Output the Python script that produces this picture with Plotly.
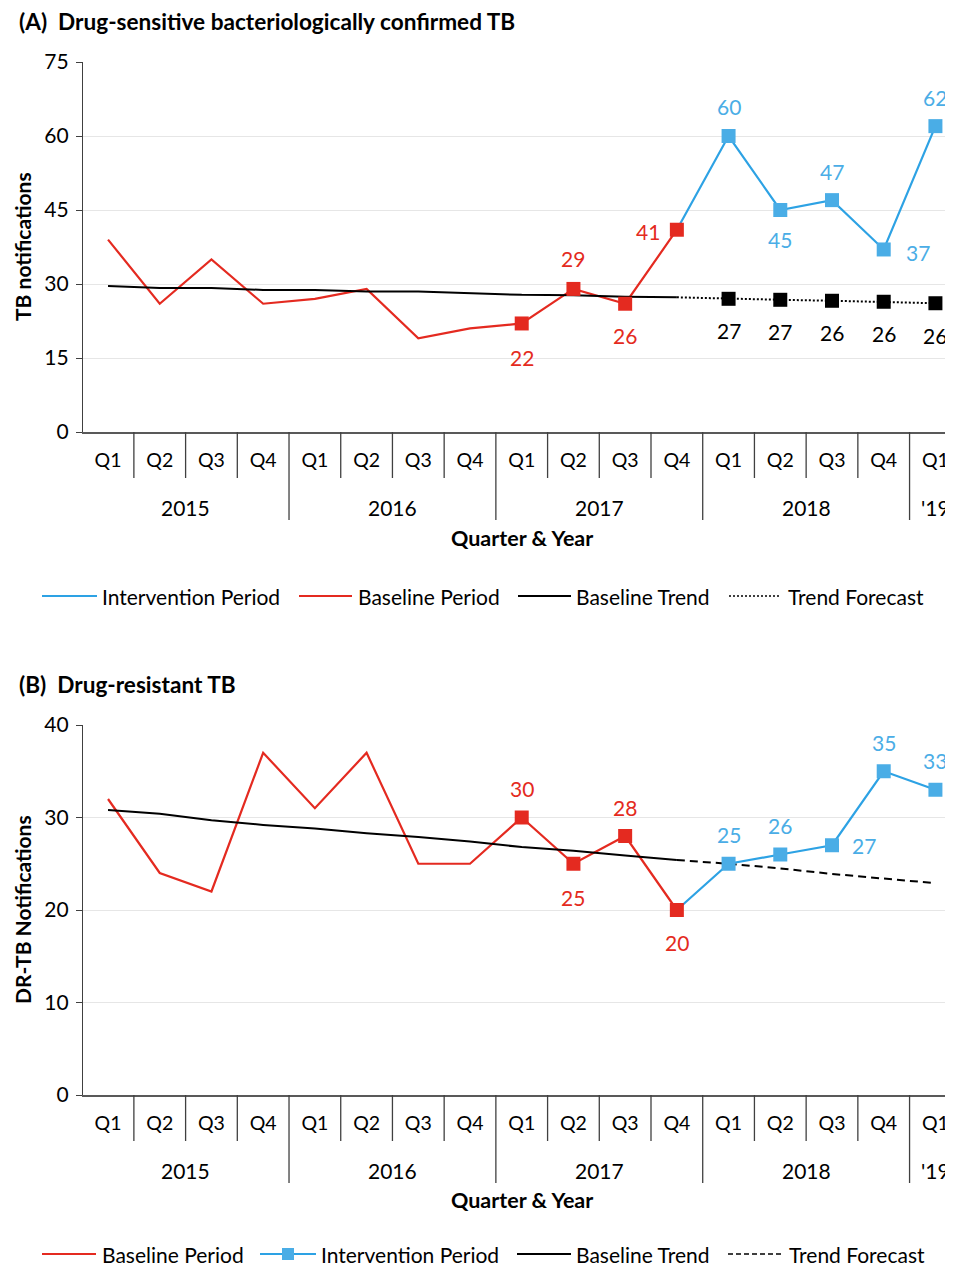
import plotly.graph_objects as go

# ---------------- data ----------------
quarters = ["Q1", "Q2", "Q3", "Q4"] * 4 + ["Q1"]
years = ["2015", "2016", "2017", "2018", "'19"]
year_centers = [1.5, 5.5, 9.5, 13.5, 16]
x_base = list(range(12))          # 2015 Q1 .. 2017 Q4
x_int = list(range(11, 17))       # 2017 Q4 .. 2019 Q1

# Panel A: drug-sensitive bacteriologically confirmed TB
a_baseline = [39, 26, 35, 26, 27, 29, 19, 21, 22, 29, 26, 41]
a_intervention = [41, 60, 45, 47, 37, 62]
a_trend = [29.6, 29.2, 29.2, 28.8, 28.8, 28.5, 28.5, 28.1, 27.8, 27.7, 27.4, 27.3]
a_forecast = [27.3, 27.0, 26.8, 26.6, 26.4, 26.1]
a_forecast_labels = ["27", "27", "26", "26", "26"]

# Panel B: drug-resistant TB
b_baseline = [32, 24, 22, 37, 31, 37, 25, 25, 30, 25, 28, 20]
b_intervention = [20, 25, 26, 27, 35, 33]
b_trend = [30.8, 30.4, 29.7, 29.2, 28.8, 28.3, 27.9, 27.4, 26.8, 26.4, 25.9, 25.4]
b_forecast = [25.4, 25.0, 24.5, 23.9, 23.4, 22.9]

legend_a = ["Intervention Period", "Baseline Period", "Baseline Trend", "Trend Forecast"]
legend_b = ["Baseline Period", "Intervention Period", "Baseline Trend", "Trend Forecast"]

RED = "#E42A20"
BLUE_L = "#2DA2E4"
BLUE_M = "#4AADE6"
FONT = "Lato"

# page has an 8px body margin
OFF = 8
W, H = 953 - OFF, 1269 - OFF


def X(px):
    return (px - OFF) / W


def Y(py):
    return 1 - (py - OFF) / H


fig = go.Figure()
annotations = []
shapes = []


def label(xa, ya, x, y, text, color, dx, dy):
    annotations.append(dict(x=x, y=y, xref=xa, yref=ya, text=text, showarrow=False,
                            xshift=dx, yshift=dy, xanchor="center", yanchor="middle",
                            font=dict(size=21, color=color, family=FONT)))


styles = {
    "Baseline Period": dict(color=RED, width=2.2, dash="solid"),
    "Intervention Period": dict(color=BLUE_L, width=2.2, dash="solid"),
    "Baseline Trend": dict(color="black", width=2, dash="solid"),
}
MS = 14


def add_panel(n, base, inter, trend, fc, fc_dash, fc_labels, base_off, int_off):
    xa = "x" if n == 1 else "x2"
    ya = "y" if n == 1 else "y2"
    fig.add_trace(go.Scatter(x=x_base, y=base, mode="lines", name="Baseline Period",
                             line=styles["Baseline Period"], xaxis=xa, yaxis=ya,
                             showlegend=False, hoverinfo="skip"))
    fig.add_trace(go.Scatter(x=x_base, y=trend, mode="lines", name="Baseline Trend",
                             line=styles["Baseline Trend"], xaxis=xa, yaxis=ya,
                             showlegend=False, hoverinfo="skip"))
    fig.add_trace(go.Scatter(x=x_int, y=fc, mode="lines", name="Trend Forecast",
                             line=dict(color="black", width=2, dash=fc_dash),
                             xaxis=xa, yaxis=ya, showlegend=False, hoverinfo="skip"))
    if fc_labels:
        fig.add_trace(go.Scatter(x=x_int[1:], y=fc[1:], mode="markers",
                                 name="Trend Forecast",
                                 marker=dict(symbol="square", size=MS, color="black"),
                                 xaxis=xa, yaxis=ya, showlegend=False, hoverinfo="skip"))
        for xv, yv, t in zip(x_int[1:], fc[1:], fc_labels):
            label(xa, ya, xv, yv, t, "black", 0, -32)
    fig.add_trace(go.Scatter(x=x_int, y=inter, mode="lines", name="Intervention Period",
                             line=styles["Intervention Period"],
                             xaxis=xa, yaxis=ya, showlegend=False, hoverinfo="skip"))
    fig.add_trace(go.Scatter(x=x_int[1:], y=inter[1:], mode="markers",
                             name="Intervention Period",
                             marker=dict(symbol="square", size=MS, color=BLUE_M),
                             xaxis=xa, yaxis=ya, showlegend=False, hoverinfo="skip"))
    fig.add_trace(go.Scatter(x=x_base[8:], y=base[8:], mode="markers",
                             name="Baseline Period",
                             marker=dict(symbol="square", size=MS, color=RED),
                             xaxis=xa, yaxis=ya, showlegend=False, hoverinfo="skip"))
    for xv, yv, (dx, dy) in zip(x_base[8:], base[8:], base_off):
        label(xa, ya, xv, yv, str(yv), RED, dx, dy)
    for xv, yv, (dx, dy) in zip(x_int[1:], inter[1:], int_off):
        label(xa, ya, xv, yv, str(yv), BLUE_M, dx, dy)


add_panel(1, a_baseline, a_intervention, a_trend, a_forecast, "2px,2px",
          a_forecast_labels,
          [(0, -34), (0, 30), (0, -32), (-29, -2)],
          [(0, 29), (0, -30), (0, 29), (34, -3), (0, 29)])
add_panel(2, b_baseline, b_intervention, b_trend, b_forecast, "8px,5px", None,
          [(0, 29), (0, -34), (0, 29), (0, -32)],
          [(0, 29), (0, 29), (32, 0), (0, 29), (0, 29)])

# ---------------- layout ----------------
x_range = [-0.484, 16.34]
panels = [
    dict(top=62, bottom=432, ymax=75, dtick=15, ytitle="TB notifications",
         title="(A)  Drug-sensitive bacteriologically confirmed TB", title_y=22,
         xq_y=538, leg_y=596, legend=legend_a, leg_dash="2px,2px",
         leg_x=[(42, 97, 100), (299, 352, 356), (518, 571, 574), (729, 781, 786)]),
    dict(top=725, bottom=1095, ymax=40, dtick=10, ytitle="DR-TB Notifications",
         title="(B)  Drug-resistant TB", title_y=684, xq_y=1200, leg_y=1254,
         legend=legend_b, leg_dash="5px,3px",
         leg_x=[(42, 96, 100), (260, 316, 319), (517, 571, 574), (728, 784, 787)]),
]

layout = dict(width=W, height=H, margin=dict(l=0, r=0, t=0, b=0),
              paper_bgcolor="white", plot_bgcolor="white", showlegend=False,
              font=dict(family=FONT, size=19, color="black"))

for i, p in enumerate(panels):
    sfx = "" if i == 0 else "2"
    ph = p["bottom"] - p["top"]
    layout["xaxis" + sfx] = dict(
        domain=[X(83), 1], range=x_range, tickmode="array",
        tickvals=list(range(17)), ticktext=quarters, ticks="",
        ticklabelstandoff=10, tickfont=dict(size=19.5, color="black"),
        showgrid=False, zeroline=False, showline=True, linecolor="#595959", linewidth=2,
        anchor="y" + sfx, fixedrange=True, automargin=False)
    layout["yaxis" + sfx] = dict(
        domain=[Y(p["bottom"]), Y(p["top"])], range=[0, p["ymax"]], dtick=p["dtick"],
        tick0=0, ticks="outside", ticklen=6, tickcolor="#404040", tickwidth=1.3,
        tickfont=dict(size=21, color="black"), ticklabelstandoff=3,
        showgrid=True, gridcolor="#E6E6E6", gridwidth=1.3, zeroline=False,
        showline=True, linecolor="#404040", linewidth=1.3,
        anchor="x" + sfx, fixedrange=True, automargin=False)
    # category separators below the axis
    for k in range(18):
        xb = k - 0.5
        depth = 88 if k % 4 == 0 else 46
        shapes.append(dict(type="line", xref="x" + sfx, yref="y" + sfx + " domain",
                           x0=xb, x1=xb, y0=0, y1=-depth / ph,
                           line=dict(color="#404040", width=1.3)))
    for yl, xc in zip(years, year_centers):
        annotations.append(dict(text=yl, xref="x" + sfx, yref="y" + sfx + " domain",
                                x=xc, y=-75 / ph, xanchor="center", yanchor="middle",
                                showarrow=False, font=dict(size=21, color="black")))
    annotations.append(dict(text="<b>Quarter & Year</b>", xref="paper", yref="paper",
                            x=X(522), y=Y(p["xq_y"]), xanchor="center", yanchor="middle",
                            showarrow=False, font=dict(size=21.5, color="black")))
    annotations.append(dict(text="<b>" + p["ytitle"] + "</b>", xref="paper", yref="paper",
                            x=X(22), y=Y((p["top"] + p["bottom"]) / 2),
                            xanchor="center", yanchor="middle", textangle=-90,
                            showarrow=False, font=dict(size=21, color="black")))
    annotations.append(dict(text="<b>" + p["title"] + "</b>", xref="paper", yref="paper",
                            x=X(17), y=Y(p["title_y"]), xanchor="left",
                            yanchor="middle", showarrow=False,
                            font=dict(size=22.6, color="black")))
    # legend (drawn as shapes + text so its layout matches the reference)
    ly = Y(p["leg_y"])
    for name, (x0, x1, xt) in zip(p["legend"], p["leg_x"]):
        if name == "Trend Forecast":
            st = dict(color="black", width=1.6, dash=p["leg_dash"])
        else:
            st = styles[name]
        shapes.append(dict(type="line", xref="paper", yref="paper", x0=X(x0), x1=X(x1),
                           y0=ly, y1=ly, line=st))
        if name == "Intervention Period" and i == 1:
            xm = (x0 + x1) / 2
            shapes.append(dict(type="rect", xref="paper", yref="paper",
                               x0=X(xm - 6), x1=X(xm + 6),
                               y0=Y(p["leg_y"] + 6), y1=Y(p["leg_y"] - 6),
                               fillcolor=BLUE_M, line=dict(width=0)))
        annotations.append(dict(text=name, xref="paper", yref="paper", x=X(xt), y=ly,
                                xanchor="left", yanchor="middle", showarrow=False,
                                font=dict(size=21, color="black")))

layout["annotations"] = annotations
layout["shapes"] = shapes
fig.update_layout(**layout)

fig.write_html("out.html")
